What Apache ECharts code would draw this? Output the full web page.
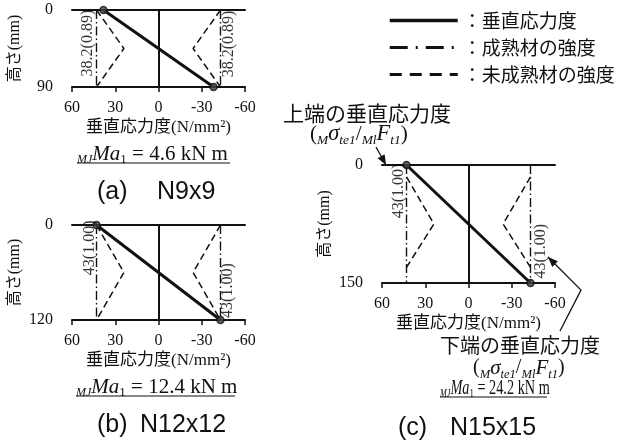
<!DOCTYPE html>
<html>
<head>
<meta charset="utf-8">
<script src="https://cdn.jsdelivr.net/npm/echarts@6/dist/echarts.min.js"></script>
<style>
html, body { margin: 0; padding: 0; background: #fff; }
#chart { width: 620px; height: 446px; }
</style>
</head>
<body>
<div id="chart"></div>
<script>
// ---- data ----
const xTicks = [60, 30, 0, -30, -60];            // stress axis ticks (N/mm2)
const panelTags = ['(a)', '(b)', '(c)'];
const specimens = ['N9x9', 'N12x12', 'N15x15'];
const depths = [90, 120, 150];                   // section height (mm)
const topStress = [38.2, 43, 43];                // stress at upper edge
const bottomStress = [-38.2, -43, -43];          // stress at lower edge
const stressRatio = ['0.89', '1.00', '1.00'];    // stress / mature strength
const matureStrength = [43, 43, 43];             // mature wood strength
// immature wood strength profile: [strength, height] vertices
const immatureA = [[43, 0], [24, 45], [43, 90]];
const immatureB = [[43, 0], [24, 60], [43, 120]];
const immatureC = [[43, 15], [24, 75], [43, 130]];
const moments = ['4.6', '12.4', '24.2'];         // MJ Ma1 (kN m)
const seriesNames = ['垂直応力度', '成熟材の強度', '未成熟材の強度'];

// ---- styling ----
const INK = '#111';
const SERIF = "'Liberation Serif','Noto Sans CJK JP',serif";
const SANS = "'Liberation Sans',Arial,sans-serif";
const CJK = "'Noto Sans CJK JP','Liberation Serif',sans-serif";
const DASHDOT = [9, 3, 1.5, 3];
const DASH = [7, 4];

const immature = [immatureA, immatureB, immatureC];
const grids = [
  { left: 72, top: 10, width: 173, height: 77 },
  { left: 72, top: 225, width: 173, height: 95 },
  { left: 382, top: 165, width: 173, height: 118 }
];
// where the rotated value labels sit, as fraction of height, plus pixel nudge
const labelSpots = [
  { l: 0.43, r: 0.44, dl: -9, dr: 8 },
  { l: 0.24, r: 0.69, dl: -7, dr: 7 },
  { l: 0.22, r: 0.73, dl: -8, dr: 10 }
];

const xMin = Math.min(...xTicks), xMax = Math.max(...xTicks);
const xStep = xTicks[0] - xTicks[1];

const xAxis = [], yAxis = [], series = [];
grids.forEach((g, i) => {
  const d = depths[i];
  xAxis.push({
    gridIndex: i, type: 'value', inverse: true, min: xMin, max: xMax, interval: xStep,
    position: 'bottom',
    axisLine: { show: true, onZero: false, lineStyle: { color: INK, width: 2 } },
    axisTick: { show: true, length: 5, lineStyle: { color: INK, width: 1.5 } },
    axisLabel: { margin: 13, fontSize: 16, color: INK, fontFamily: SERIF },
    splitLine: { show: false },
    name: '垂直応力度(N/mm²)', nameLocation: 'middle', nameGap: 32,
    nameTextStyle: { fontSize: 17, color: INK, fontFamily: SERIF }
  });
  xAxis.push({
    gridIndex: i, type: 'value', inverse: true, min: xMin, max: xMax, interval: xStep,
    position: 'top',
    axisLine: { show: true, onZero: false, lineStyle: { color: INK, width: 2 } },
    axisTick: { show: false }, axisLabel: { show: false }, splitLine: { show: false }
  });
  yAxis.push({
    gridIndex: i, type: 'value', inverse: true, min: 0, max: d, interval: d,
    axisLine: { show: false }, axisTick: { show: false }, splitLine: { show: false },
    axisLabel: { margin: 19, fontSize: 16, color: INK, fontFamily: SERIF },
    name: '高さ(mm)', nameLocation: 'middle', nameGap: 49, nameRotate: 90,
    nameTextStyle: { fontSize: 16, color: INK, fontFamily: SERIF }
  });

  const ax = { xAxisIndex: 2 * i, yAxisIndex: i };
  const stress = [[topStress[i], 0], [bottomStress[i], d]];

  // mature strength, both faces
  [1, -1].forEach(sgn => {
    series.push(Object.assign({
      name: seriesNames[1], type: 'line', symbol: 'none', silent: true,
      data: [[sgn * matureStrength[i], 0], [sgn * matureStrength[i], d]],
      itemStyle: { color: INK },
      lineStyle: { color: INK, width: 1.4, type: DASHDOT }, z: 3
    }, ax));
  });
  // immature strength, mirrored about zero
  [1, -1].forEach(sgn => {
    series.push(Object.assign({
      name: seriesNames[2], type: 'line', symbol: 'none', silent: true,
      data: immature[i].map(p => [sgn * p[0], p[1]]),
      itemStyle: { color: INK },
      lineStyle: { color: INK, width: 1.5, type: DASH }, z: 3
    }, ax));
  });
  // normal stress distribution with zero reference line
  series.push(Object.assign({
    name: seriesNames[0], type: 'line', symbol: 'none', silent: true,
    data: stress, itemStyle: { color: INK },
    lineStyle: { color: INK, width: 3 }, z: 5,
    markLine: {
      silent: true, symbol: 'none', label: { show: false },
      lineStyle: { color: INK, width: 2, type: 'solid' },
      data: [{ xAxis: 0 }]
    }
  }, ax));
  // edge points
  series.push(Object.assign({
    type: 'scatter', symbol: 'circle', symbolSize: 7, silent: true,
    data: stress,
    itemStyle: { color: '#444', borderColor: INK, borderWidth: 1.5 }, z: 6
  }, ax));
  // rotated value labels: stress (ratio)
  const txt = Math.abs(topStress[i]) + '(' + stressRatio[i] + ')';
  const s = labelSpots[i];
  series.push(Object.assign({
    type: 'scatter', symbolSize: 0, silent: true, z: 7,
    data: [
      { value: [matureStrength[i], d * s.l], label: { offset: [0, s.dl] } },
      { value: [-matureStrength[i], d * s.r], label: { offset: [0, s.dr] } }
    ],
    label: {
      show: true, position: 'inside', rotate: 90, formatter: txt,
      fontSize: 16, color: '#000', fontFamily: SERIF
    }
  }, ax));
});

// ---- annotation graphics ----
const graphic = [];
function text(x, y, str, style, extra) {
  graphic.push(Object.assign({
    type: 'text', x: x, y: y,
    style: Object.assign({ text: str, fill: INK, verticalAlign: 'middle', align: 'left' }, style)
  }, extra || {}));
}
function arrow(pts) {
  graphic.push({ type: 'polyline', shape: { points: pts }, style: { stroke: INK, lineWidth: 1.3, fill: null } });
  const [x1, y1] = pts[pts.length - 2], [x2, y2] = pts[pts.length - 1];
  const a = Math.atan2(y2 - y1, x2 - x1), L = 10, W = 4;
  const bx = x2 - L * Math.cos(a), by = y2 - L * Math.sin(a);
  graphic.push({
    type: 'polygon',
    shape: { points: [[x2, y2], [bx + W * Math.sin(a), by - W * Math.cos(a)], [bx - W * Math.sin(a), by + W * Math.cos(a)]] },
    style: { fill: INK }
  });
}
const richSub = {
  n: { fontSize: 21, fontFamily: SERIF, fill: INK },
  i: { fontSize: 21, fontFamily: SERIF, fontStyle: 'italic', fill: INK },
  s: { fontSize: 12, fontFamily: SERIF, fontStyle: 'italic', fill: INK, padding: [12, 0, 0, 0] },
  u: { fontSize: 13, fontFamily: SERIF, fill: INK, padding: [12, 0, 0, 0] }
};
function momentText(x, y, i, w, sx) {
  text(x, y, '{s|MJ}{i|Ma}{u|1}{n| = ' + moments[i] + ' kN m}', { rich: richSub }, { scaleX: sx });
  graphic.push({ type: 'line', shape: { x1: x, y1: y + 9, x2: x + w, y2: y + 9 }, style: { stroke: INK, lineWidth: 1.2 } });
}
function sigmaRich(k) {
  return {
    p: { fontSize: 19 * k, fontFamily: SERIF, fill: INK },
    i: { fontSize: 20 * k, fontFamily: SERIF, fontStyle: 'italic', fill: INK },
    s: { fontSize: 12 * k, fontFamily: SERIF, fontStyle: 'italic', fill: INK, padding: [12 * k, 0, 0, 0] }
  };
}
const sigmaStr = '{p|(}{s|M}{i|σ}{s|te1}{p|/}{s|Ml}{i|F}{s|t1}{p|)}';

// panel captions
const tagPos = [[97, 192, 157], [97, 425, 140], [398, 428, 450]];
tagPos.forEach((p, i) => {
  text(p[0], p[1], panelTags[i], { fontSize: 25, fontFamily: SANS });
  text(p[2], p[1], specimens[i], { fontSize: 25, fontFamily: SANS });
});
momentText(77, 154, 0, 153, 1);
momentText(76, 387, 1, 159, 1);
momentText(440, 388, 2, 107, 0.68);

// edge stress call-outs
text(283, 113, '上端の垂直応力度', { fontSize: 21, fontFamily: CJK });
text(310, 134, sigmaStr, { rich: sigmaRich(1.12) });
arrow([[376, 147], [386, 165]]);
text(440, 345, '下端の垂直応力度', { fontSize: 20, fontFamily: CJK });
text(473, 368, sigmaStr, { rich: sigmaRich(1.05) });
arrow([[560, 331], [581, 290], [548, 257]]);

const chart = echarts.init(document.getElementById('chart'), null, { renderer: 'canvas' });
chart.setOption({
  animation: false,
  backgroundColor: '#fff',
  grid: grids.map(g => Object.assign({ containLabel: false, outerBoundsMode: 'none' }, g)),
  xAxis: xAxis,
  yAxis: yAxis,
  legend: {
    orient: 'vertical', left: 388, top: 11, padding: 0,
    itemWidth: 68, itemHeight: 14, itemGap: 8,
    selectedMode: false,
    itemStyle: { opacity: 0 },
    data: [
      { name: seriesNames[0], lineStyle: { width: 3.5, type: 'solid' } },
      { name: seriesNames[1], lineStyle: { width: 3, type: [18, 8, 2, 8] } },
      { name: seriesNames[2], lineStyle: { width: 3, type: [12, 8] } }
    ],
    formatter: n => '：' + n,
    textStyle: { fontSize: 19, color: INK, fontFamily: CJK, lineHeight: 14 }
  },
  graphic: graphic,
  series: series
});
</script>
</body>
</html>
